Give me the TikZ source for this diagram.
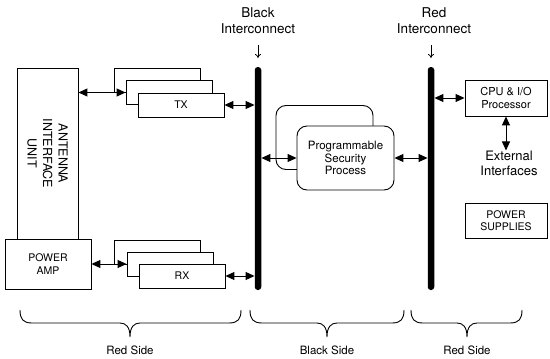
\documentclass[tikz,border=0pt]{standalone}
\usepackage{fontspec}
\setmainfont{TeX Gyre Heros}
\usetikzlibrary{arrows.meta}
\newcommand\sidebrace[3]{% left x, tip x, right x
  \draw[line width=0.9pt] (#1,310) .. controls (#1,319) and (#1+3,323) .. (#1+12,323)
    -- (#2-10,323) .. controls (#2-4,323) and (#2,327) .. (#2,337)
    .. controls (#2,327) and (#2+4,323) .. (#2+10,323)
    -- (#3-12,323) .. controls (#3-3,323) and (#3,319) .. (#3,310);}
\begin{document}
\begin{tikzpicture}[x=1pt,y=-1pt,
  box/.style={draw,line width=0.9pt,fill=white,inner sep=0pt,align=center,
    font=\fontsize{10.5}{12.5}\selectfont},
  stackbox/.style={box,minimum width=86pt,minimum height=24pt},
  psbox/.style={box,rounded corners=10pt,minimum width=97pt,minimum height=64pt},
  bus/.style={fill=black,rounded corners=3pt,minimum width=6.5pt,minimum height=223pt,inner sep=0pt},
  conn/.style={line width=1pt,{Triangle[length=9pt,width=8pt]}-{Triangle[length=9pt,width=8pt]}},
  lbl/.style={align=center,inner sep=0pt,font=\fontsize{13.5}{16}\selectfont},
  sidelbl/.style={inner sep=0pt,font=\fontsize{11.5}{14}\selectfont},
  pointer/.style={line width=0.8pt,-{To[length=4pt,width=6pt]}}
]
\useasboundingbox (0,0) rectangle (550,359);

% antenna interface unit and power amp
\node[box,minimum width=61pt,minimum height=171pt] (aiu) at (47.5,153.5) {};
\node[lbl,rotate=-90,font=\fontsize{12.5}{15.5}\selectfont] at (aiu.center) {ANTENNA\\INTERFACE\\UNIT};
\node[box,minimum width=86pt,minimum height=50pt] (pa) at (48,264) {POWER\\AMP};

% TX stack
\node[stackbox] (txb) at (157,80) {};
\node[stackbox] (txm) at (169,92.5) {};
\node[stackbox] (tx) at (181,105) {TX};

% RX stack
\node[stackbox] (rxb) at (157,252) {};
\node[stackbox] (rxm) at (170,264) {};
\node[stackbox] (rx) at (182,276) {RX};

% buses
\node[bus] (bbus) at (258,178.5) {};
\node[bus] (rbus) at (431,178.5) {};
\node[lbl] (blbl) at (258,21) {Black\\Interconnect};
\node[lbl] (rlbl) at (434,21) {Red\\Interconnect};
\coordinate (bp1) at (258,45);
\coordinate (bp2) at (258,58);
\coordinate (rp1) at (431,45);
\coordinate (rp2) at (431,58);
\draw[pointer] (bp1) -- (bp2);
\draw[pointer] (rp1) -- (rp2);

% programmable security process
\node[psbox] (psb) at (324.5,137.5) {};
\node[psbox,font=\fontsize{11.5}{12.8}\selectfont] (ps) at (345.5,158) {Programmable\\Security\\Process};

% CPU, external, power supplies
\node[box,minimum width=82pt,minimum height=36pt,font=\fontsize{11}{12.5}\selectfont] (cpu) at (506,98) {CPU \& I/O\\Processor};
\node[lbl,font=\fontsize{13}{15}\selectfont] (ext) at (509,163) {External\\Interfaces};
\node[box,minimum width=82pt,minimum height=35pt] (ps2) at (506,220.5) {POWER\\SUPPLIES};

% connectors
\draw[conn] (aiu.east |- txm.west) -- (txm.west);
\draw[conn] (tx.east) -- (tx.east -| bbus.west);
\draw[conn] (pa.east) -- (pa.east -| rxm.west);
\draw[conn] (rx.east) -- (rx.east -| bbus.west);
\draw[conn] (ps.west -| bbus.east) -- (ps.west);
\draw[conn] (ps.east) -- (ps.east -| rbus.west);
\draw[conn] (cpu.west -| rbus.east) -- (cpu.west);
\draw[conn] (cpu.south) -- (cpu.south |- ext.north);

% braces and side labels
\sidebrace{20}{130}{241}
\sidebrace{250}{327}{404}
\sidebrace{411}{467}{522}
\node[sidelbl] (rs1) at (130,350) {Red Side};
\node[sidelbl] (bs) at (327,350) {Black Side};
\node[sidelbl] (rs2) at (467,350) {Red Side};
\end{tikzpicture}
\end{document}
